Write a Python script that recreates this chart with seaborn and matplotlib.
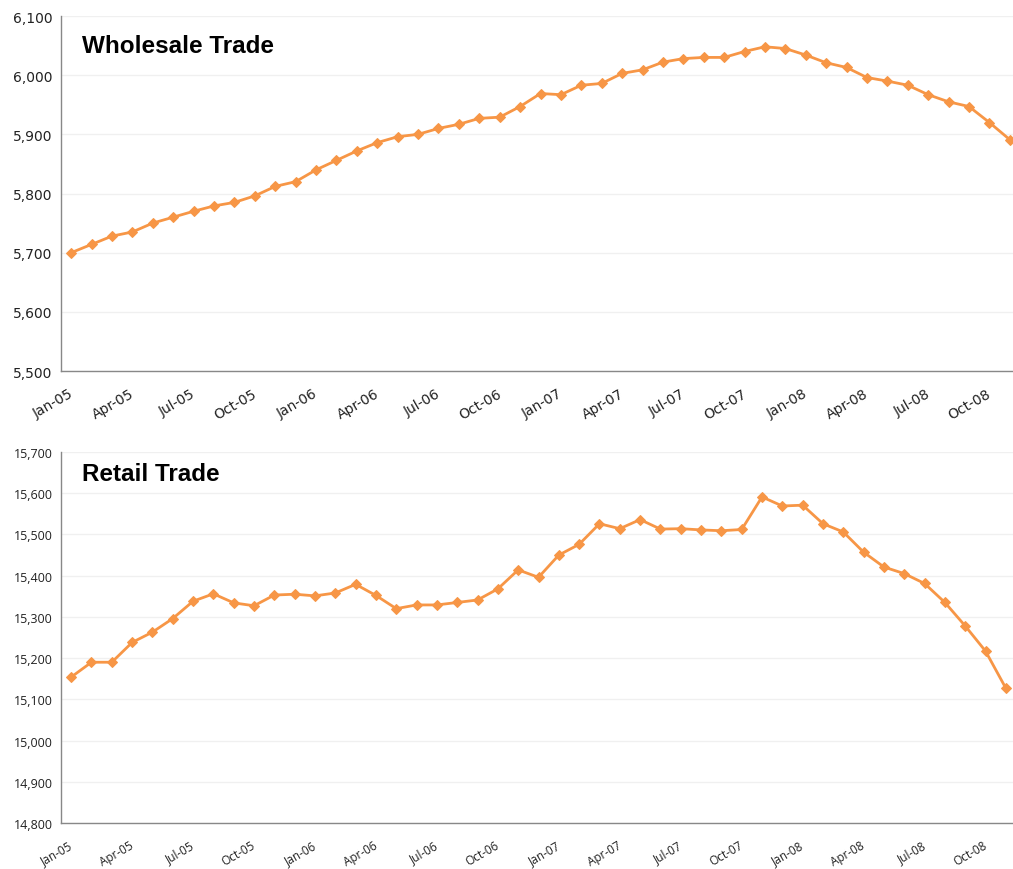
# Wholesale and retail trade, two stacked line charts
import numpy as np
import pandas as pd
import matplotlib
matplotlib.use('Agg')
import matplotlib.pyplot as plt
import seaborn as sns

# months Jan-05 .. Nov-08
months = [m + '-' + y for y in ['05', '06', '07', '08']
          for m in ['Jan', 'Feb', 'Mar', 'Apr', 'May', 'Jun',
                    'Jul', 'Aug', 'Sep', 'Oct', 'Nov', 'Dec']][:47]

wholesale = [5700, 5714, 5728, 5735, 5750, 5760, 5770, 5779, 5785, 5796, 5812, 5820,
             5840, 5856, 5872, 5886, 5896, 5900, 5910, 5917, 5927, 5929, 5947, 5969,
             5967, 5983, 5986, 6003, 6009, 6022, 6028, 6030, 6030, 6040, 6048, 6045,
             6034, 6021, 6013, 5996, 5990, 5983, 5967, 5955, 5947, 5920, 5891]

retail = [15154, 15190, 15190, 15238, 15263, 15296, 15338, 15356, 15334, 15327, 15353, 15355,
          15351, 15358, 15379, 15352, 15320, 15329, 15329, 15335, 15341, 15368, 15414, 15396,
          15450, 15476, 15526, 15514, 15536, 15513, 15514, 15511, 15509, 15512, 15591, 15569,
          15571, 15526, 15506, 15457, 15421, 15405, 15381, 15335, 15278, 15217, 15127]

df = pd.DataFrame({'pos': np.arange(len(months)), 'month': months,
                   'Wholesale Trade': wholesale, 'Retail Trade': retail})

sns.set_style('white')
orange = '#F79646'

fig = plt.figure(figsize=(10.13, 8.7), dpi=100)
ax1 = fig.add_axes([61/1013, (870-372)/870, 959/1013, 355/870])
ax2 = fig.add_axes([61/1013, (870-824)/870, 955/1013, 371/870])

# axis, column, y range, y font, y size, x font, x size, title y (axes fraction)
settings = [
    (ax1, 'Wholesale Trade', (5500, 6100), 'DejaVu Sans', 10, 'DejaVu Sans', 10, 0.916),
    (ax2, 'Retail Trade', (14800, 15700), 'Open Sans', 9, 'Open Sans', 8.5, 0.941),
]

for ax, col, ylim, yfont, ysize, xfont, xsize, ty in settings:
    sns.lineplot(data=df, x='pos', y=col, ax=ax, color=orange, linewidth=2,
                 marker='D', markersize=5, markeredgecolor=orange)
    ax.set_xlim(-0.5, len(months) - 0.5)
    ax.set_ylim(*ylim)
    yt = np.arange(ylim[0], ylim[1] + 1, 100)
    ax.set_yticks(yt)
    ax.set_yticklabels([f'{v:,}' for v in yt], family=yfont, fontsize=ysize,
                       color='#222222')
    # tick marks on category edges, labels a little to the right (Excel look)
    ticks = np.arange(0, len(months), 3)
    ax.set_xticks(ticks - 0.5)
    ax.set_xticklabels([])
    ax.set_xticks(ticks - 0.15, minor=True)
    ax.set_xticklabels([months[i] for i in ticks], minor=True, rotation=30,
                       ha='right', va='top', rotation_mode='anchor',
                       family=xfont, fontsize=xsize, color='#222222')
    ax.grid(axis='y', color='#f0f0f0', linewidth=1)
    ax.set_axisbelow(True)
    for s in ['top', 'right']:
        ax.spines[s].set_visible(False)
    for s in ['left', 'bottom']:
        ax.spines[s].set_color('#888888')
        ax.spines[s].set_linewidth(1)
    ax.tick_params(axis='y', length=4, width=1, color='#888888', pad=2)
    ax.tick_params(axis='x', which='major', length=4, width=1, color='#888888')
    ax.tick_params(axis='x', which='minor', length=0, pad=11)
    ax.set_xlabel('')
    ax.set_ylabel('')
    ax.text(0.022, ty, col, transform=ax.transAxes, fontsize=17.5,
            fontweight='bold', family='Liberation Sans', color='black',
            va='center', ha='left')

fig.savefig('out.png', dpi=100)
